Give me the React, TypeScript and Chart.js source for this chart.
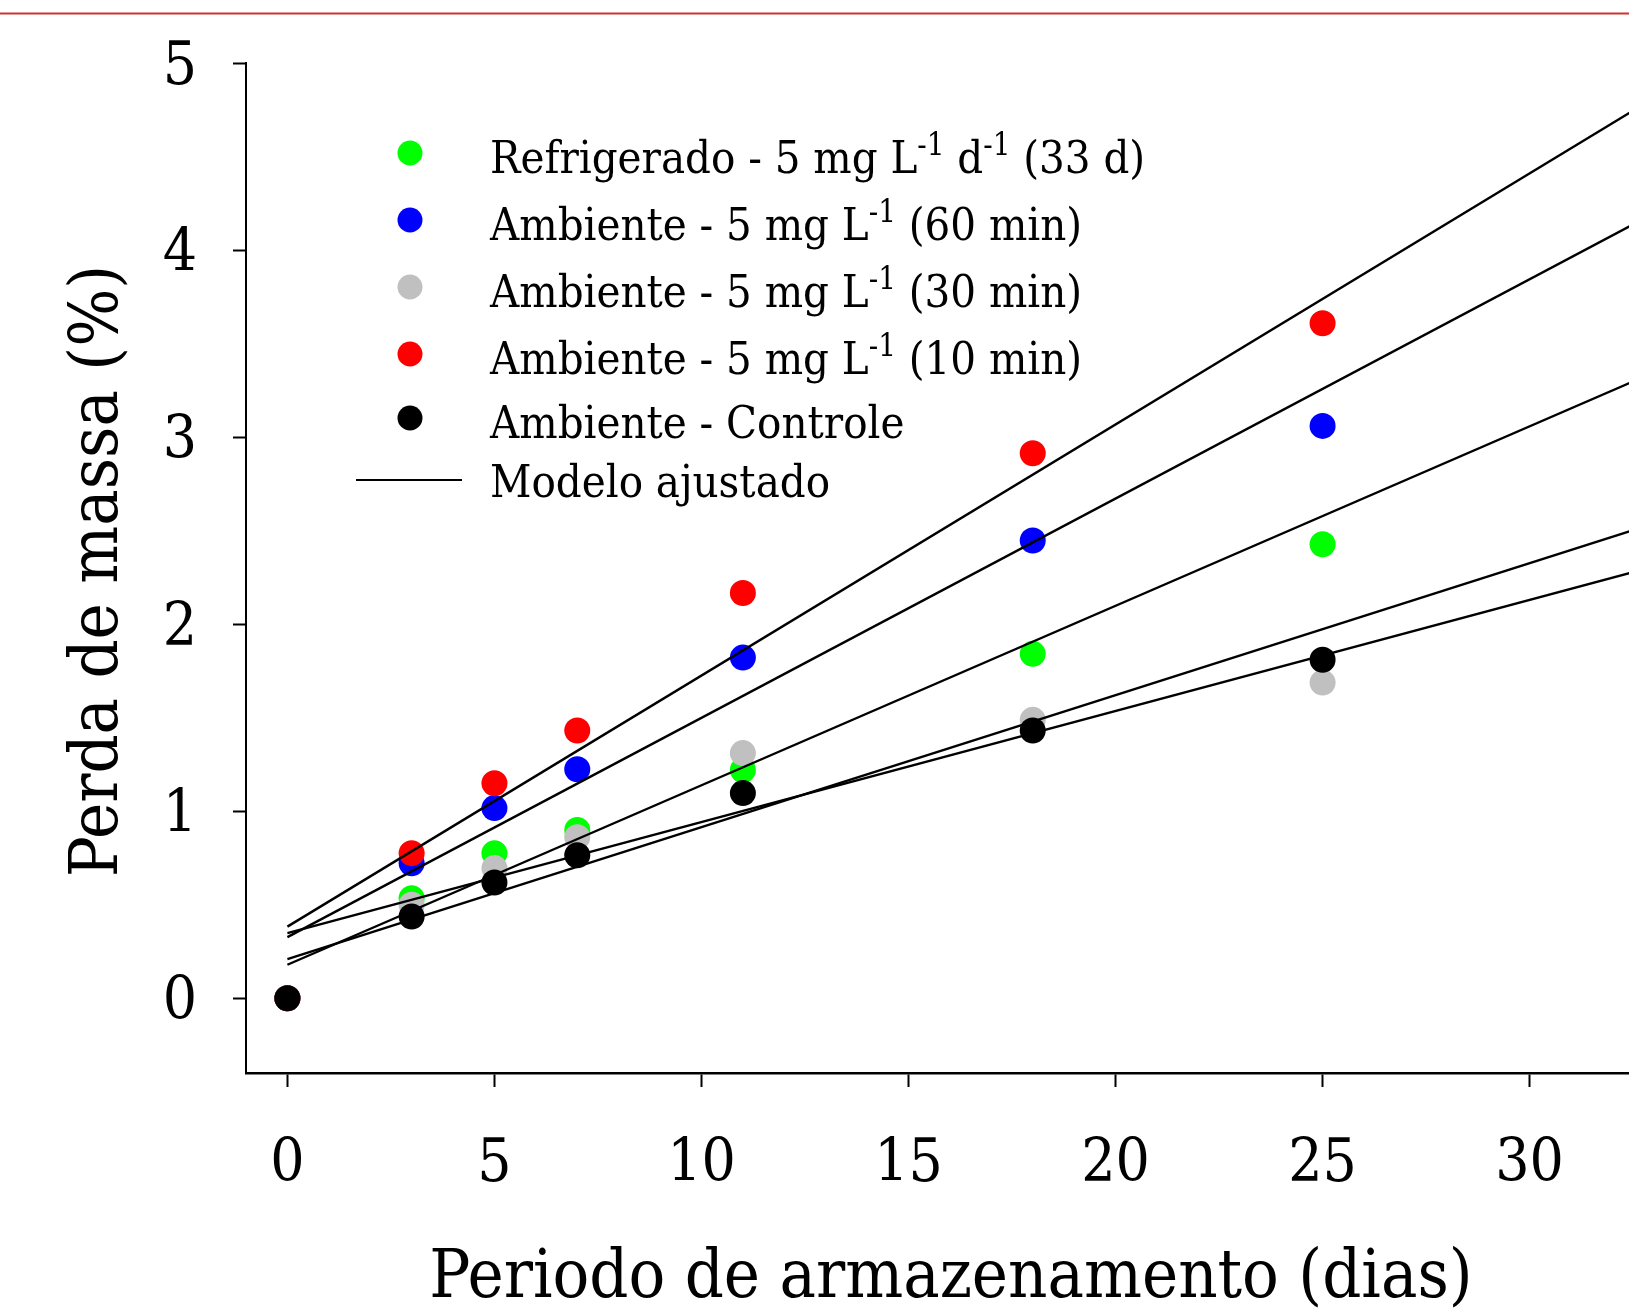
import React, { useEffect, useRef } from "react";
import { Chart, registerables } from "chart.js";

Chart.register(...registerables);

// ---- data ----
const days = [0, 3, 5, 7, 11, 18, 25];
const refrigerado = [0, 0.535, 0.776, 0.9, 1.221, 1.842, 2.428];
const amb60 = [0, 0.722, 1.017, 1.225, 1.822, 2.448, 3.061];
const amb30 = [0, 0.5, 0.696, 0.861, 1.311, 1.489, 1.688];
const amb10 = [0, 0.776, 1.15, 1.432, 2.167, 2.915, 3.61];
const controle = [0, 0.437, 0.619, 0.765, 1.097, 1.432, 1.81];

// fitted models (intercept, slope)
const modelIntercepts = [0.383, 0.327, 0.179, 0.209, 0.348];
const modelSlopes = [0.1343, 0.1173, 0.096, 0.0706, 0.0594];

const xTicks = [0, 5, 10, 15, 20, 25, 30];
const yTicks = [0, 1, 2, 3, 4, 5];

const seriesColors = ["#00ff00", "#0000ff", "#c0c0c0", "#ff0000", "#000000"];
const seriesValues = [refrigerado, amb60, amb30, amb10, controle];

type Part = { t: string; sup?: boolean };
const legendLabels: Part[][] = [
  [{ t: "Refrigerado - 5 mg L" }, { t: "-1", sup: true }, { t: " d" }, { t: "-1", sup: true }, { t: " (33 d)" }],
  [{ t: "Ambiente - 5 mg L" }, { t: "-1", sup: true }, { t: " (60 min)" }],
  [{ t: "Ambiente - 5 mg L" }, { t: "-1", sup: true }, { t: " (30 min)" }],
  [{ t: "Ambiente - 5 mg L" }, { t: "-1", sup: true }, { t: " (10 min)" }],
  [{ t: "Ambiente - Controle" }],
];
const modelLabel = "Modelo ajustado";
const xTitle = "Periodo de armazenamento (dias)";
const yTitle = "Perda de massa (%)";

const FONT = '"DejaVu Serif Condensed", "DejaVu Serif", serif';
const W = 1629;
const H = 1308;

const overlay = {
  id: "overlay",
  beforeDraw(chart: any) {
    const ctx = chart.ctx;
    ctx.save();
    ctx.fillStyle = "#ffffff";
    ctx.fillRect(0, 0, chart.width, chart.height);
    ctx.restore();
  },
  afterDraw(chart: any) {
    const ctx = chart.ctx;
    ctx.save();
    // top red rule
    ctx.fillStyle = "#cc3333";
    ctx.fillRect(0, 12.5, chart.width, 2);

    ctx.fillStyle = "#000";
    // x title
    ctx.font = `68px ${FONT}`;
    ctx.textAlign = "center";
    ctx.textBaseline = "alphabetic";
    ctx.fillText(xTitle, 951, 1297);
    // y title
    ctx.save();
    ctx.translate(117, 571);
    ctx.rotate(-Math.PI / 2);
    ctx.fillText(yTitle, 0, 0);
    ctx.restore();

    // legend
    const rowsY = [153, 220, 287, 354, 418];
    const textX = 490;
    const markerX = 410;
    ctx.textAlign = "left";
    legendLabels.forEach((parts, i) => {
      const y = rowsY[i];
      ctx.beginPath();
      ctx.fillStyle = seriesColors[i];
      ctx.arc(markerX, y, 12.5, 0, Math.PI * 2);
      ctx.fill();
      ctx.fillStyle = "#000";
      let x = textX;
      parts.forEach((p) => {
        if (p.sup) {
          ctx.font = `31px ${FONT}`;
          ctx.fillText(p.t, x, y + 2);
          x += ctx.measureText(p.t).width;
        } else {
          ctx.font = `45px ${FONT}`;
          ctx.fillText(p.t, x, y + 20);
          x += ctx.measureText(p.t).width;
        }
      });
    });
    // model line in legend
    ctx.strokeStyle = "#000";
    ctx.lineWidth = 2;
    ctx.beginPath();
    ctx.moveTo(356, 480);
    ctx.lineTo(462, 480);
    ctx.stroke();
    ctx.font = `45px ${FONT}`;
    ctx.fillText(modelLabel, textX, 497);
    ctx.restore();
  },
};

export default function App() {
  const ref = useRef<HTMLCanvasElement | null>(null);
  useEffect(() => {
    if (!ref.current) return;
    const xEnd = 33;
    const lineSets = modelIntercepts.map((a, i) => ({
      type: "line" as const,
      data: [
        { x: 0, y: a },
        { x: xEnd, y: a + modelSlopes[i] * xEnd },
      ],
      borderColor: "#000",
      borderWidth: 2.4,
      pointRadius: 0,
      fill: false,
      order: 0,
    }));
    const pointSets = seriesValues.map((vals, i) => ({
      type: "scatter" as const,
      data: days.map((d, j) => ({ x: d, y: vals[j] })),
      backgroundColor: seriesColors[i],
      borderWidth: 0,
      pointRadius: 13,
      pointHoverRadius: 13,
      order: 10 - i,
    }));
    const chart = new Chart(ref.current, {
      type: "scatter",
      data: { datasets: [...pointSets, ...lineSets] as any },
      options: {
        animation: false,
        responsive: false,
        devicePixelRatio: 1,
        events: [],
        layout: { autoPadding: false, padding: { top: 63.4, left: 0, right: 0, bottom: 0 } },
        plugins: { legend: { display: false }, tooltip: { enabled: false } },
        scales: {
          x: {
            type: "linear",
            min: -1,
            max: 32.4,
            afterBuildTicks: (s: any) => {
              s.ticks = xTicks.map((v) => ({ value: v }));
            },
            afterFit: (s: any) => {
              s.height = H - 1073;
              s.paddingLeft = 0;
              s.paddingRight = 0;
            },
            ticks: {
              color: "#000",
              font: { family: FONT, size: 60, lineHeight: 1 },
              padding: 48,
              maxRotation: 0,
              autoSkip: false,
            },
            grid: {
              display: true,
              drawOnChartArea: false,
              drawTicks: true,
              tickLength: 14,
              tickWidth: 2,
              tickColor: "#000",
            },
            border: { display: true, color: "#000", width: 2.5 },
          },
          y: {
            type: "linear",
            min: -0.4,
            max: 5,
            afterBuildTicks: (s: any) => {
              s.ticks = yTicks.map((v) => ({ value: v }));
            },
            afterFit: (s: any) => {
              s.width = 246;
              s.paddingTop = 0;
              s.paddingBottom = 0;
            },
            ticks: {
              color: "#000",
              font: { family: FONT, size: 60, lineHeight: 1 },
              padding: 36,
              labelOffset: 5,
              autoSkip: false,
            },
            grid: {
              display: true,
              drawOnChartArea: false,
              drawTicks: true,
              tickLength: 13,
              tickWidth: 2,
              tickColor: "#000",
            },
            border: { display: true, color: "#000", width: 2 },
          },
        },
      },
      plugins: [overlay],
    });
    return () => chart.destroy();
  }, []);
  return (
    <div style={{ position: "fixed", left: 0, top: 0, width: W, height: H, background: "#fff" }}>
      <canvas ref={ref} width={W} height={H} style={{ width: W, height: H, display: "block" }} />
    </div>
  );
}
